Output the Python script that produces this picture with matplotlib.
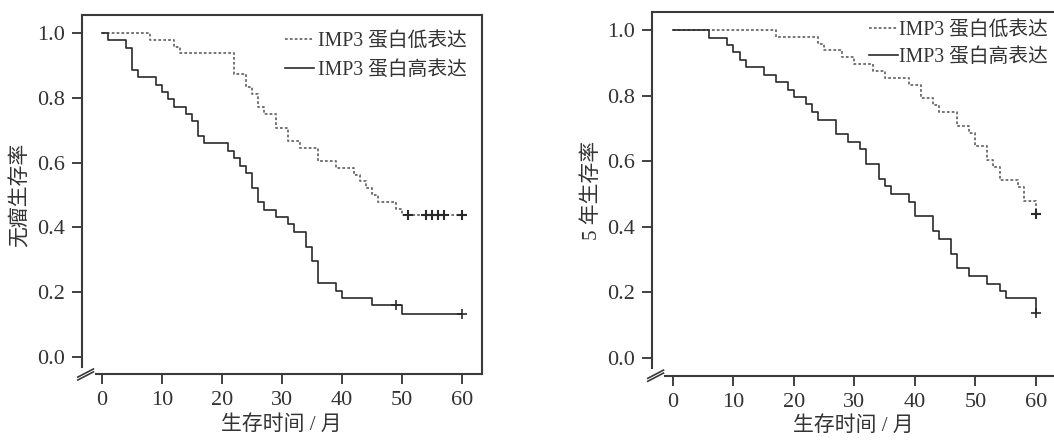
import numpy as np
import matplotlib
matplotlib.use('Agg')
import matplotlib.pyplot as plt

plt.rcParams['font.family'] = ['Liberation Serif', 'Noto Sans CJK SC', 'DejaVu Sans']

# 无瘤生存 (left)
dfs_low_t = [0, 8, 12, 13, 22, 24, 25, 26, 27, 29, 31, 33, 36, 39, 42, 43, 44, 45, 46, 49, 50, 60]
dfs_low_s = [1.0, 0.979, 0.958, 0.938, 0.875, 0.833, 0.812, 0.771, 0.75, 0.708, 0.667, 0.646,
             0.604, 0.583, 0.5625, 0.542, 0.521, 0.5, 0.479, 0.458, 0.4375, 0.4375]
dfs_low_cens = [51, 54, 55, 56, 57, 60]

dfs_high_t = [0, 1, 4, 5, 6, 9, 10, 11, 12, 14, 15, 16, 17, 21, 22, 23, 24, 25, 26, 27, 29, 31,
              32, 34, 35, 36, 39, 40, 45, 50, 60]
dfs_high_s = [1.0, 0.977, 0.955, 0.886, 0.864, 0.841, 0.818, 0.795, 0.773, 0.75, 0.727, 0.682,
              0.659, 0.636, 0.614, 0.591, 0.568, 0.523, 0.477, 0.455, 0.432, 0.409, 0.386,
              0.341, 0.295, 0.227, 0.205, 0.182, 0.159, 0.132, 0.132]
dfs_high_cens = [49, 60]

# 5年生存 (right)
os_low_t = [0, 17, 24, 25, 28, 30, 33, 35, 39, 41, 43, 44, 47, 49, 50, 52, 53, 54, 57, 58, 60]
os_low_s = [1.0, 0.979, 0.958, 0.938, 0.917, 0.896, 0.875, 0.854, 0.833, 0.792, 0.771, 0.75,
            0.708, 0.687, 0.646, 0.604, 0.583, 0.542, 0.521, 0.479, 0.4375]
os_low_cens = [60]

os_high_t = [0, 6, 9, 10, 11, 12, 15, 17, 19, 20, 22, 23, 24, 27, 29, 31, 32, 34, 35, 36, 39,
             40, 43, 44, 46, 47, 49, 52, 54, 55, 60]
os_high_s = [1.0, 0.977, 0.955, 0.932, 0.909, 0.886, 0.864, 0.841, 0.818, 0.795, 0.773, 0.75,
             0.727, 0.682, 0.659, 0.636, 0.591, 0.545, 0.523, 0.5, 0.477, 0.432, 0.386, 0.364,
             0.318, 0.273, 0.25, 0.227, 0.205, 0.182, 0.136]
os_high_cens = [60]

xticks = [0, 10, 20, 30, 40, 50, 60]
yticks = [0.0, 0.2, 0.4, 0.6, 0.8, 1.0]
legend_labels = ['IMP3 蛋白低表达', 'IMP3 蛋白高表达']
xlabel = '生存时间 / 月'

txt = '#333333'
c_low = '#6a6a6a'
c_high = '#2a2a2a'

fig = plt.figure(figsize=(10.54, 4.41), dpi=100)


def cens_y(t, s, cens):
    # survival value at each censor time (step function)
    idx = np.searchsorted(t, cens, side='right') - 1
    return np.asarray(s)[idx]


def km_panel(rect, xlim, ylim, low, high, ylabel, xbreak, hpad, leg_anchor, lspace,
             xlab_pos, ylab_pos):
    ax = fig.add_axes(rect)
    ax.step(low[0], low[1], where='post', color=c_low, lw=1.3, ls=(0, (1.5, 1.2)))
    ax.plot(low[2], cens_y(*low), '+', color=c_high, ms=7, mew=1.5)
    ax.step(high[0], high[1], where='post', color=c_high, lw=1.2)
    ax.plot(high[2], cens_y(*high), '+', color=c_high, ms=7, mew=1.2)
    ax.set_xlim(*xlim)
    ax.set_ylim(*ylim)
    ax.set_xticks(xticks)
    ax.set_yticks(yticks)
    ax.set_yticklabels(['%.1f' % v for v in yticks])
    ax.tick_params(direction='out', length=7, width=1.3, colors=txt, labelsize=16, pad=5)
    for s in ax.spines.values():
        s.set_color('#3a3a3a')
        s.set_linewidth(1.5)
    ax.spines['left'].set_bounds(-0.031, ylim[1])
    ax.spines['bottom'].set_bounds(xbreak, xlim[1])
    ax.set_xlabel(xlabel, fontsize=15, color=txt, va='center')
    ax.set_ylabel(ylabel, fontsize=15, color=txt, va='center')
    ax.xaxis.set_label_coords(*xlab_pos)
    ax.yaxis.set_label_coords(*ylab_pos)
    # axis break marks
    for dy in (0.0, -0.009):
        ax.plot([xlim[0] - 0.7, xlim[0] + 1.9], [-0.062 + dy, -0.037 + dy],
                color='#3a3a3a', lw=1.2, clip_on=False)
    hl, = ax.plot([], [], color=c_low, lw=1.3, ls=(0, (1.5, 1.2)))
    hh, = ax.plot([], [], color=c_high, lw=1.2)
    ax.legend([hl, hh], legend_labels, loc='upper right', bbox_to_anchor=leg_anchor,
              frameon=False, fontsize=14.2, handlelength=1.5, handletextpad=hpad,
              labelspacing=lspace, borderaxespad=0, borderpad=0, labelcolor=txt)
    return ax


km_panel([0.0778, 0.1519, 0.3795, 0.8141], (-3.33, 63.33), (-0.0525, 1.0556),
         (dfs_low_t, dfs_low_s, dfs_low_cens), (dfs_high_t, dfs_high_s, dfs_high_cens),
         '无瘤生存率', -1.0, 0.2, (0.9625, 0.9527), 0.5, (0.4975, -0.143), (-0.1525, 0.5))
km_panel([0.6186, 0.1474, 0.3871, 0.8254], (-3.47, 64.0), (-0.0549, 1.0549),
         (os_low_t, os_low_s, os_low_cens), (os_high_t, os_high_s, os_high_cens),
         '5 年生存率', -1.3, 0.05, (0.9706, 0.9753), 0.4, (0.493, -0.136), (-0.147, 0.51))

fig.savefig('out.png', dpi=100)
